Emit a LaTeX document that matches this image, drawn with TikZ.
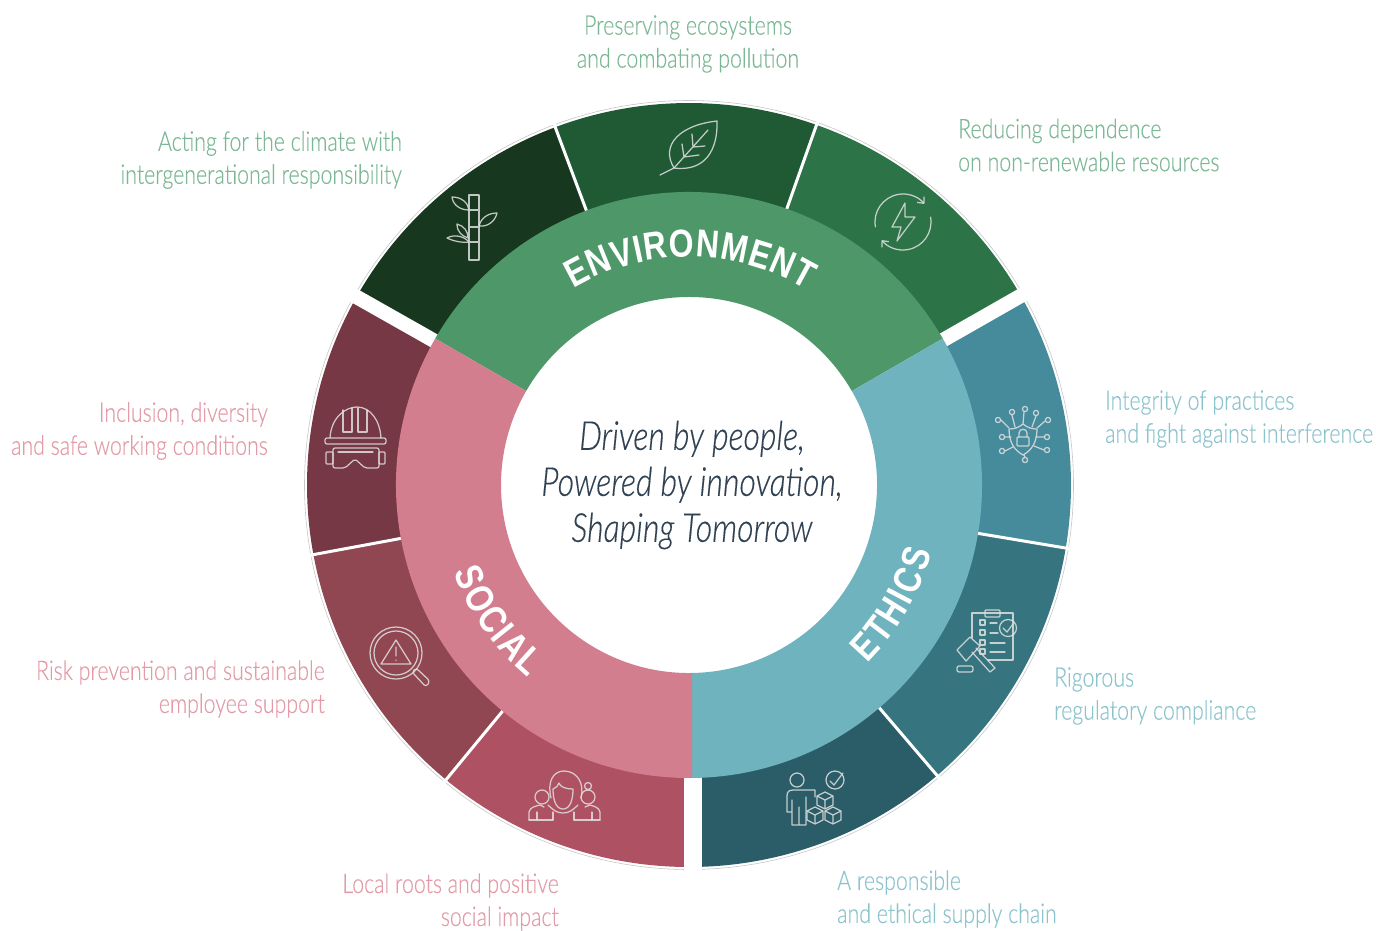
\documentclass[tikz,border=0pt]{standalone}
\usepackage{fontspec}
\usetikzlibrary{decorations.text,arrows.meta}
\setmainfont{Liberation Sans}
\newfontfamily\lab[FakeStretch=0.79,FakeBold=0.3]{Lato Light}
\newfontfamily\ctrf[FakeStretch=0.80,FakeBold=0.3]{Lato Light Italic}
\newfontfamily\ringf[FakeStretch=0.82]{Liberation Sans}
\definecolor{gA}{HTML}{17381F}\definecolor{gB}{HTML}{205A35}\definecolor{gC}{HTML}{2C7347}
\definecolor{gM}{HTML}{4E9769}\definecolor{tM}{HTML}{6EB3BE}\definecolor{pM}{HTML}{D27E8E}
\definecolor{tA}{HTML}{458B9C}\definecolor{tB}{HTML}{367580}\definecolor{tC}{HTML}{2B5D68}
\definecolor{pA}{HTML}{753844}\definecolor{pB}{HTML}{914752}\definecolor{pC}{HTML}{AE5163}
\definecolor{gT}{HTML}{7DB896}\definecolor{tT}{HTML}{8CC4CE}\definecolor{pT}{HTML}{E39BA9}
\definecolor{inkc}{HTML}{2F4152}
\newcommand\sect[5]{\fill[#1] (#2:#4) arc[start angle=#2,end angle=#3,radius=#4] -- (#3:#5) arc[start angle=#3,end angle=#2,radius=#5] -- cycle;}
\newcommand\cube[2]{\begin{scope}[shift={(#1,#2)}]\draw[ico] (-8,-4)--(0,-8)--(8,-4)--(8,5)--(0,9)--(-8,5)--cycle (-8,-4)--(0,0)--(8,-4) (0,0)--(0,9);\end{scope}}
\tikzset{
 lbl/.style={font=\lab\fontsize{27}{33}\selectfont,inner sep=0pt},
 ico/.style={draw=white!88!black,line width=1.25pt,line join=round,line cap=round,opacity=.85},
 ringtxt/.style={decorate,decoration={text along path,text align=fit to path,text color=white,text={|\ringf\bfseries\fontsize{39}{39}\selectfont|#1}}},
}
\begin{document}
\begin{tikzpicture}[x=1pt,y=-1pt]
\useasboundingbox (0,0) rectangle (1376,930);
\begin{scope}[shift={(689,485)},y=1pt]
 \draw[gray!45,line width=.6pt] (0,0) circle[radius=384.5];
 \sect{gA}{110.5}{151}{382}{290}
 \sect{gB}{70.5}{110.5}{382}{290}
 \sect{gC}{29.5}{70.5}{382}{290}
 \sect{tA}{-9.5}{30}{382}{290}
 \sect{tB}{-49.5}{-9.5}{382}{290}
 \sect{tC}{-90}{-49.5}{382}{290}
 \sect{pC}{230.5}{270}{382}{290}
 \sect{pB}{190.5}{230.5}{382}{290}
 \sect{pA}{150}{190.5}{382}{290}
 \foreach \a in {70.5,110.5,-9.5,-49.5,230.5,190.5}
  \draw[white,line width=3pt] (\a:285) -- (\a:386);
 \foreach \a in {150.5,29.7}
  \draw[white,line width=14.5pt] (\a:285) -- (\a:392);
 \fill[white] (-5,-288) rectangle (12.5,-392);
 \sect{gM}{30}{150}{293}{188}
 \sect{tM}{-90}{30}{293}{188}
 \begin{scope}
  \clip (-400,-400) rectangle (3,400);
  \sect{pM}{150}{275}{293}{188}
 \end{scope}
 \path[ringtxt=ENVIRONMENT] (120.5:228) arc[start angle=120.5,end angle=59,radius=228];
 \path[ringtxt=SOCIAL] (200.5:251) arc[start angle=200.5,end angle=230,radius=251];
 \path[ringtxt=ETHICS] (-45:252) arc[start angle=-45,end angle=-15.5,radius=252];
 % bolt arrows (drawn in this y-up scope)
 \begin{scope}[shift={(214,263)}]
  \draw[ico,-{Straight Barb[length=5pt,width=9pt]}] (190:28) arc[start angle=190,end angle=40,radius=28];
  \draw[ico,-{Straight Barb[length=5pt,width=9pt]}] (10:28) arc[start angle=10,end angle=-140,radius=28];
 \end{scope}
\end{scope}

% centre
\node[font=\ctrf\fontsize{40}{46}\selectfont,text=inkc,align=center,inner sep=0pt] (centre) at (692,485)
 {Driven by people,\\Powered by innovation,\\Shaping Tomorrow};

% labels
\node[lbl,text=gT,align=center] (l1) at (688,44) {Preserving ecosystems\\and combating pollution};
\node[lbl,text=gT,align=right,anchor=east] (l2) at (402,160) {Acting for the climate with\\intergenerational responsibility};
\node[lbl,text=gT,align=left,anchor=west] (l3) at (958,145) {Reducing dependence\\on non-renewable resources};
\node[lbl,text=tT,align=left,anchor=west] (l4) at (1105,419) {Integrity of practices\\and fight against interference};
\node[lbl,text=tT,align=left,anchor=west] (l5) at (1054,696) {Rigorous\\regulatory compliance};
\node[lbl,text=tT,align=left,anchor=west] (l6) at (837,899) {A responsible\\and ethical supply chain};
\node[lbl,text=pT,align=right,anchor=east] (l7) at (559,902) {Local roots and positive\\social impact};
\node[lbl,text=pT,align=right,anchor=east] (l8) at (325,689) {Risk prevention and sustainable\\employee support};
\node[lbl,text=pT,align=right,anchor=east] (l9) at (268,431) {Inclusion, diversity\\and safe working conditions};

% leaf
\draw[ico] (660,175)--(674,168) .. controls (660,145) and (680,125) .. (717,121) .. controls (718,150) and (705,172) .. (674,168);
\draw[ico] (674,168)--(708,130) (684,157)--(682,144) (684,157)--(699,155) (693,147)--(692,134) (693,147)--(705,146);
% bolt
\draw[ico] (905,203)--(892,227)--(901,227)--(897,241)--(915,217)--(905,217)--cycle;
% bamboo
\draw[ico] (469,195) rectangle (479,260) (469,210)--(479,210) (469,227)--(479,227) (469,242)--(479,242);
\draw[ico] (469,210) .. controls (460,210) and (453,205) .. (452,197) .. controls (462,197) and (468,203) .. (469,210);
\draw[ico] (479,226) .. controls (481,218) and (488,213) .. (497,213) .. controls (495,222) and (487,227) .. (479,226);
\draw[ico] (469,242) .. controls (462,243) and (453,241) .. (447,238) .. controls (454,234) and (464,236) .. (469,242);
\draw[ico] (468,238) .. controls (462,236) and (457,232) .. (457,224) .. controls (464,226) and (468,231) .. (468,238);
% helmet and goggles
\draw[ico] (330,438) .. controls (331,418) and (345,407) .. (357,407) .. controls (370,407) and (380,420) .. (381,438);
\draw[ico,rounded corners=2pt] (325,438) rectangle (386,444);
\draw[ico] (343,410)--(343,432)--(352,432)--(352,408) (358,408)--(358,432)--(367,432)--(367,410);
\draw[ico,rounded corners=2pt] (333,448)--(379,448)--(379,468)--(365,468)--(355,459)--(345,468)--(333,468)--cycle;
\draw[ico,rounded corners=1pt] (326,452) rectangle (333,464) (379,452) rectangle (385,464);
\draw[ico] (338,452)--(373,452);
% magnifier
\draw[ico] (396,653) circle[radius=26] (396,653) circle[radius=22];
\draw[ico] (396,640)--(381,664)--(411,664)--cycle (396,647)--(396,656) (396,660)--(396,660.5);
\draw[ico,rounded corners=3pt] (412,672)--(416,668)--(430,681)--(426,687)--cycle;
% people
\draw[ico] (551,798) .. controls (547,782) and (553,771) .. (564,771) .. controls (576,771) and (585,782) .. (581,798);
\draw[ico] (553,789) .. controls (553,800) and (556,809) .. (563,809) .. controls (570,809) and (573,800) .. (573,789) .. controls (566,789) and (560,787) .. (559,783) .. controls (558,786) and (556,788) .. (553,789);
\draw[ico] (548,805) .. controls (553,810) and (557,813) .. (563,813) .. controls (569,813) and (573,810) .. (578,805);
\draw[ico] (542,797) circle[radius=7] (588,797) circle[radius=7] (588,786) circle[radius=3.5];
\draw[ico] (529,820)--(529,812) .. controls (530,807) and (536,806) .. (540,805)--(544,807) (600,820)--(600,812) .. controls (599,807) and (593,806) .. (590,805)--(585,807);
\draw[ico] (537,820)--(537,812) (553,820)--(553,812) (574,820)--(574,812) (592,820)--(592,812);
\draw[ico] (529,820)--(553,820) (574,820)--(600,820);
% circuit shield
\draw[ico] (1023,424) .. controls (1018,428) and (1014,429) .. (1009,429) .. controls (1009,442) and (1014,450) .. (1023,455) .. controls (1032,450) and (1037,442) .. (1037,429) .. controls (1032,429) and (1028,428) .. (1023,424);
\draw[ico,rounded corners=1pt] (1017,437) rectangle (1029,446);
\draw[ico] (1019,437)--(1019,433) .. controls (1019,428) and (1027,428) .. (1027,433)--(1027,437);
\foreach \x/\y in {998/420,1012/412,1025/409,1036/413,1048/420,1002/437,1047/437,1002/451,1047/450,1025/460}
  \draw[ico] (\x,\y) circle[radius=2.6];
\draw[ico] (1001,420)--(1009,428) (1012,415)--(1015,427) (1024,412)--(1023,424) (1036,416)--(1032,427) (1045,421)--(1037,428)
 (1005,437)--(1011,437) (1044,437)--(1036,437) (1005,451)--(1013,447) (1044,450)--(1034,446) (1024,455)--(1025,457);
% clipboard and gavel
\draw[ico] (972,638)--(972,613)--(1013,613)--(1013,660)--(988,660);
\draw[ico,rounded corners=1pt] (985,610) rectangle (1000,617);
\draw[ico] (1008,628) circle[radius=8.5] (1003,628)--(1007,632)--(1013,624);
\foreach \y in {620,630,640,649}{\draw[ico] (980,\y) rectangle (985,\y+5);}
\draw[ico] (990,623)--(997,623) (990,633)--(998,633) (990,643)--(1005,643) (990,652)--(1005,652);
\draw[ico] (957,650)--(970,637)--(980,646)--(966,661)--cycle;
\draw[ico] (972,652)--(990,672)--(995,668)--(976,648);
\draw[ico,rounded corners=2pt] (957,666) rectangle (973,672);
% person and boxes
\draw[ico] (797,780) circle[radius=7];
\draw[ico] (815,797)--(815,790)--(793,790) .. controls (789,790) and (787,792) .. (787,796)--(787,812)--(792,812)--(792,800) (792,812)--(792,825)--(799,825)--(799,807) (799,825)--(806,825)--(806,797);
\draw[ico] (835,780) circle[radius=9] (830,781)--(834,785)--(843,773);
\cube{825}{800}\cube{815}{815}\cube{833}{815}
\end{tikzpicture}
\end{document}
